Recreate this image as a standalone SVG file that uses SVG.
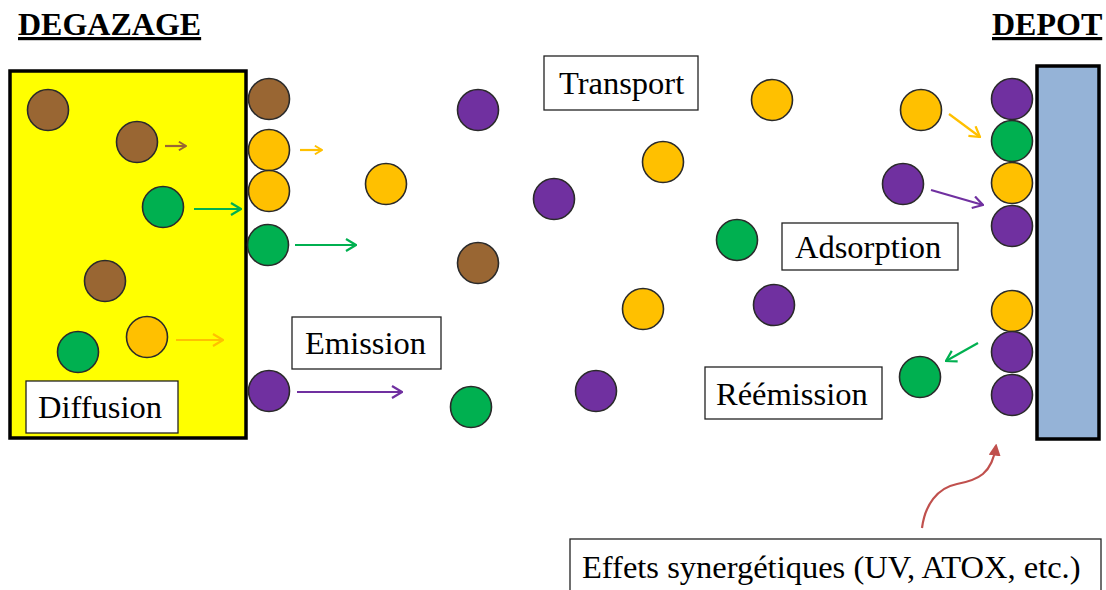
<svg xmlns="http://www.w3.org/2000/svg" width="1106" height="590" viewBox="0 0 1106 590">
<style>
.t{font-family:"Liberation Serif","Times New Roman",serif;font-size:32.5px;fill:#000}
.h{font-family:"Liberation Serif","Times New Roman",serif;font-size:32px;font-weight:bold;fill:#000;text-decoration:underline}
.lbl{fill:#fff;stroke:#222;stroke-width:1.3}
.p circle{stroke:#2a2a2a;stroke-width:1.6}
.br{fill:#996633}.or{fill:#FFC000}.gr{fill:#00B050}.pu{fill:#7030A0}
.ar{fill:none;stroke-width:2.2}
</style>
<defs>
<marker id="mg" viewBox="0 0 12 14" refX="11" refY="7" markerWidth="12" markerHeight="14" markerUnits="userSpaceOnUse" orient="auto"><path d="M1,1 L11,7 L1,13" fill="none" stroke="#00B050" stroke-width="2.2"/></marker>
<marker id="mp" viewBox="0 0 12 14" refX="11" refY="7" markerWidth="12" markerHeight="14" markerUnits="userSpaceOnUse" orient="auto"><path d="M1,1 L11,7 L1,13" fill="none" stroke="#7030A0" stroke-width="2.2"/></marker>
<marker id="mo" viewBox="0 0 12 14" refX="11" refY="7" markerWidth="12" markerHeight="14" markerUnits="userSpaceOnUse" orient="auto"><path d="M1,1 L11,7 L1,13" fill="none" stroke="#FFC000" stroke-width="2.2"/></marker>
<marker id="mos" viewBox="0 0 12 14" refX="11" refY="7" markerWidth="9" markerHeight="10" markerUnits="userSpaceOnUse" orient="auto"><path d="M1,1 L11,7 L1,13" fill="none" stroke="#FFC000" stroke-width="2.6"/></marker>
<marker id="mbs" viewBox="0 0 12 14" refX="11" refY="7" markerWidth="9" markerHeight="10" markerUnits="userSpaceOnUse" orient="auto"><path d="M1,1 L11,7 L1,13" fill="none" stroke="#996633" stroke-width="2.6"/></marker>
<marker id="mr" viewBox="0 0 10 10" refX="8" refY="5" markerWidth="12" markerHeight="12" markerUnits="userSpaceOnUse" orient="auto"><path d="M0,0 L10,5 L0,10 Z" fill="#C0504D"/></marker>
</defs>

<g id="titles">
<text class="h" x="18" y="35">DEGAZAGE</text>
<text class="h" x="992" y="35">DEPOT</text>
</g>

<g id="source">
<rect x="10" y="71" width="236" height="367" fill="#FFFF00" stroke="#000" stroke-width="3.5"/>
</g>
<g id="depot">
<rect x="1037" y="66" width="62" height="373" fill="#95B3D7" stroke="#000" stroke-width="3.5"/>
</g>

<g id="label-diffusion"><rect class="lbl" x="26" y="381" width="152" height="52"/><text class="t" x="38" y="418">Diffusion</text></g>
<g id="label-emission"><rect class="lbl" x="292" y="317" width="149" height="52"/><text class="t" x="305" y="354">Emission</text></g>
<g id="label-transport"><rect class="lbl" x="544" y="56" width="154" height="54"/><text class="t" x="559" y="94">Transport</text></g>
<g id="label-adsorption"><rect class="lbl" x="782" y="223" width="176" height="47"/><text class="t" x="795" y="258">Adsorption</text></g>
<g id="label-reemission"><rect class="lbl" x="705" y="367" width="177" height="52"/><text class="t" x="716" y="405">Réémission</text></g>
<g id="label-effets"><rect class="lbl" x="570" y="539" width="531" height="56"/><text class="t" x="582" y="578">Effets synergétiques (UV, ATOX, etc.)</text></g>

<g id="particles" class="p">
<circle class="br" cx="48" cy="110" r="20.5"/>
<circle class="br" cx="137" cy="142" r="20.5"/>
<circle class="gr" cx="163" cy="207" r="20.5"/>
<circle class="br" cx="105" cy="281" r="20.5"/>
<circle class="or" cx="147" cy="337" r="20.5"/>
<circle class="gr" cx="78" cy="352" r="20.5"/>
<circle class="br" cx="269" cy="99" r="20.5"/>
<circle class="or" cx="269" cy="150" r="20.5"/>
<circle class="or" cx="269" cy="191" r="20.5"/>
<circle class="gr" cx="268" cy="245" r="20.5"/>
<circle class="pu" cx="269" cy="391" r="20.5"/>
<circle class="pu" cx="478" cy="110" r="20.5"/>
<circle class="or" cx="386" cy="184" r="20.5"/>
<circle class="pu" cx="554" cy="199" r="20.5"/>
<circle class="or" cx="663" cy="162" r="20.5"/>
<circle class="br" cx="478" cy="263" r="20.5"/>
<circle class="or" cx="643" cy="309" r="20.5"/>
<circle class="pu" cx="596" cy="391" r="20.5"/>
<circle class="gr" cx="471" cy="407" r="20.5"/>
<circle class="or" cx="772" cy="100" r="20.5"/>
<circle class="gr" cx="737" cy="240" r="20.5"/>
<circle class="pu" cx="774" cy="305" r="20.5"/>
<circle class="or" cx="921" cy="110" r="20.5"/>
<circle class="pu" cx="903" cy="184" r="20.5"/>
<circle class="gr" cx="920" cy="377" r="20.5"/>
<circle class="pu" cx="1012" cy="99" r="20.5"/>
<circle class="gr" cx="1012" cy="141" r="20.5"/>
<circle class="or" cx="1012" cy="183" r="20.5"/>
<circle class="pu" cx="1012" cy="226" r="20.5"/>
<circle class="or" cx="1012" cy="311" r="20.5"/>
<circle class="pu" cx="1012" cy="352" r="20.5"/>
<circle class="pu" cx="1012" cy="395" r="20.5"/>
</g>

<g id="connectors">
<line class="ar" x1="165" y1="146" x2="186" y2="146" stroke="#996633" stroke-width="3" marker-end="url(#mbs)"/>
<line class="ar" x1="194" y1="209" x2="241" y2="209" stroke="#00B050" marker-end="url(#mg)"/>
<line class="ar" x1="176" y1="340" x2="223" y2="340" stroke="#FFC000" marker-end="url(#mo)"/>
<line class="ar" x1="300" y1="150" x2="322" y2="150" stroke="#FFC000" stroke-width="3" marker-end="url(#mos)"/>
<line class="ar" x1="295" y1="245" x2="356" y2="245" stroke="#00B050" marker-end="url(#mg)"/>
<line class="ar" x1="297" y1="392" x2="402" y2="392" stroke="#7030A0" marker-end="url(#mp)"/>
<line class="ar" x1="949" y1="114" x2="980" y2="137" stroke="#FFC000" marker-end="url(#mo)"/>
<line class="ar" x1="931" y1="190" x2="983" y2="205" stroke="#7030A0" marker-end="url(#mp)"/>
<line class="ar" x1="978" y1="343" x2="946" y2="361" stroke="#00B050" marker-end="url(#mg)"/>
<path class="ar" d="M922,528 C925,505 937,488 957,484 C978,480 992,474 996,446" stroke="#C0504D" stroke-width="3" marker-end="url(#mr)"/>
</g>
</svg>
